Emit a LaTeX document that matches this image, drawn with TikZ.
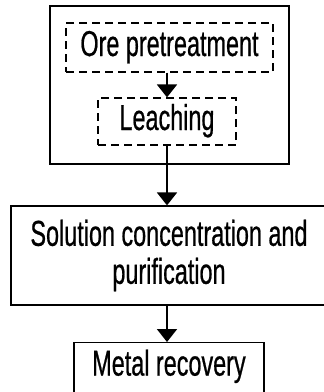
\documentclass[tikz,border=0pt]{standalone}
\usepackage{fontspec}
\setmainfont{Liberation Sans}[FakeStretch=0.65, FakeBold=0.6]
\usetikzlibrary{arrows.meta}
\begin{document}
\begin{tikzpicture}[x=1pt,y=-1pt,
  box/.style={draw, line width=1.2pt, inner sep=0pt, align=center,
    font=\fontsize{36}{38}\selectfont},
  onebox/.style={box, text height=25pt, text depth=8pt},
  dbox/.style={onebox, dash pattern=on 8pt off 5pt},
  flow/.style={-{Triangle[width=20pt,length=13pt]}, line width=2pt}]
\useasboundingbox (0,0) rectangle (324,392);
\clip (0,0) rectangle (324,392);

% grouping frame for the first two steps
\node[box, minimum width=239pt, minimum height=158pt] (stage) at (169.5,85) {};

\node[dbox, minimum width=207pt, minimum height=49pt] (ore) at (169.5,47.5) {Ore pretreatment};
\node[dbox, minimum width=138pt, minimum height=47pt] (leach) at (167,121.5) {Leaching};

\node[box, minimum width=316pt, minimum height=99pt] (sol) at (169,255.5)
  {Solution concentration and\\purification};

% last box runs past the lower edge
\node[box, anchor=north, minimum width=190pt, inner ysep=8pt,
  text height=25pt, text depth=30pt] (metal) at (169,342) {Metal recovery};

\draw[flow] (leach.north |- ore.south) -- (leach.north);
\draw[flow] (leach.south) -- (leach.south |- sol.north);
\draw[flow] (leach.south |- sol.south) -- (leach.south |- metal.north);
\end{tikzpicture}
\end{document}
